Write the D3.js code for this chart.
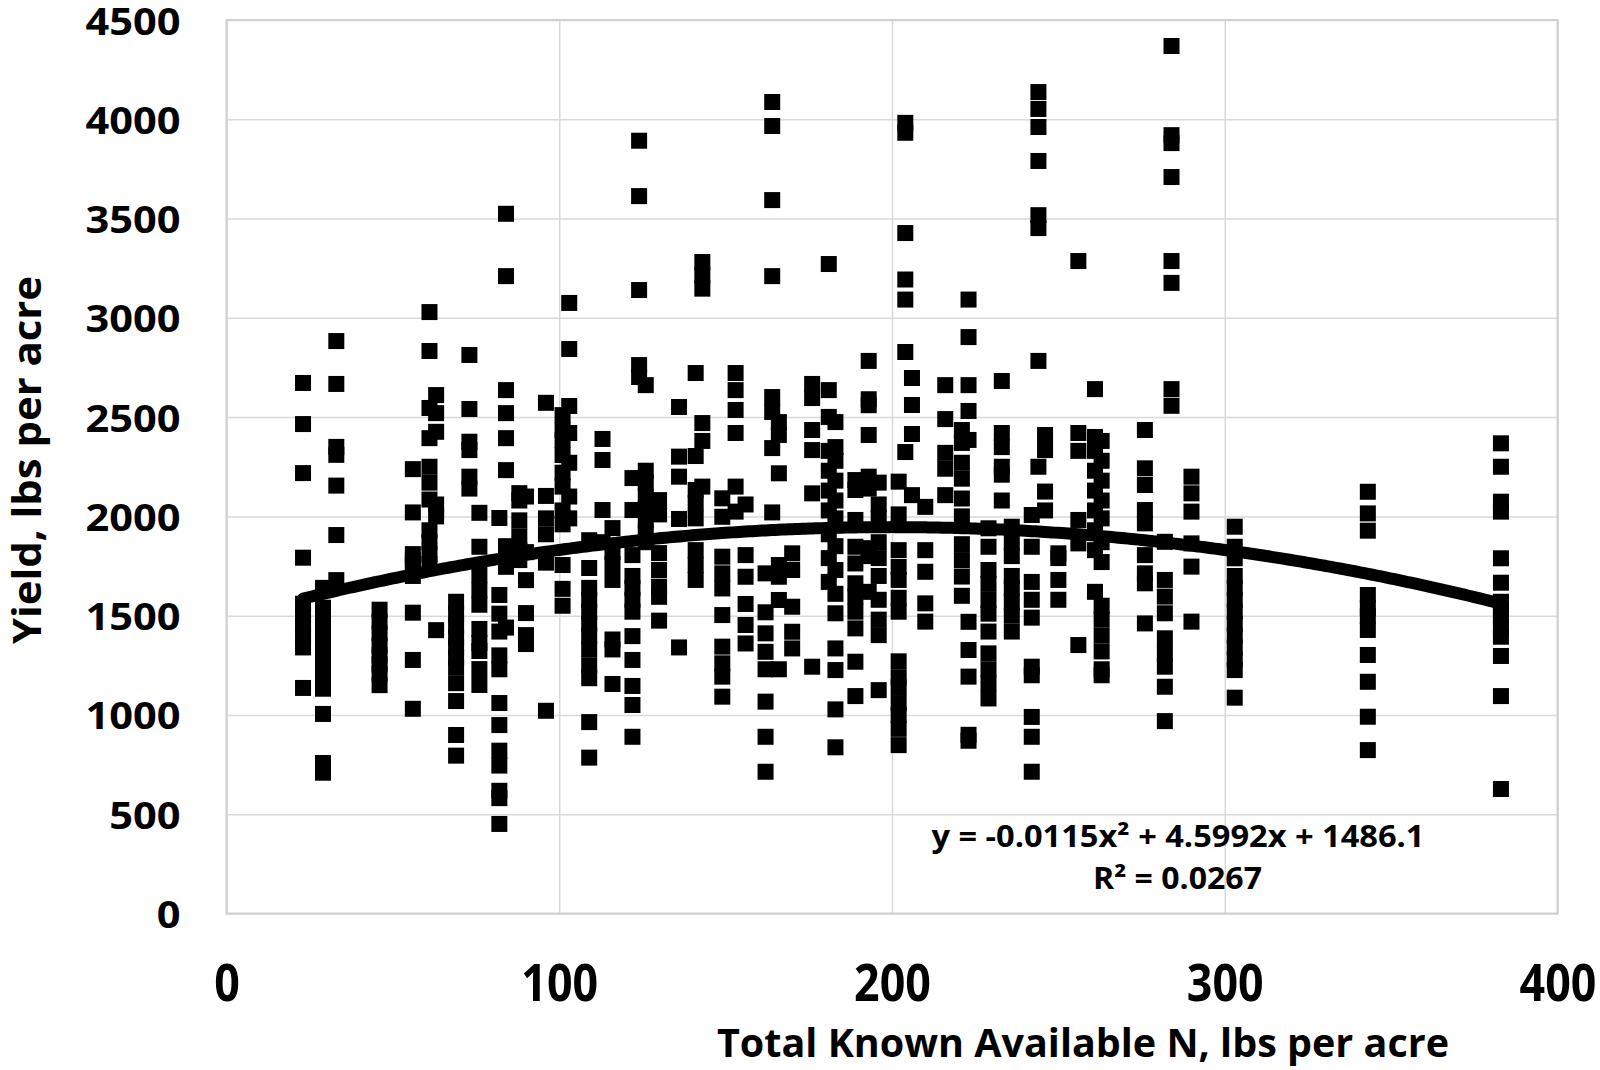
<!DOCTYPE html>
<html>
<head>
<meta charset="utf-8">
<script src="https://cdn.jsdelivr.net/npm/d3@7"></script>
<style>
  body { margin: 0; background: #fff; }
  text { font-family: "Open Sans", "Noto Sans", sans-serif; font-weight: bold; fill: #000; }
</style>
</head>
<body>
<svg id="chart" width="1600" height="1070"></svg>
<script>
// N levels (x) and the yields measured at each level
var nLevels = [23, 29, 33, 46, 56, 61, 63, 69, 73, 76, 82, 84, 88, 90, 96, 101, 103, 109, 113, 116,
    122, 124, 126, 130, 136, 141, 143, 149, 153, 156, 162, 164, 166, 170, 176, 181, 183, 189, 193, 196,
    202, 204, 206, 210, 216, 221, 223, 229, 233, 236, 242, 244, 246, 250, 256, 261, 263, 276, 282, 284,
    290, 303, 343, 383];

var yieldsByLevel = [
    [2672, 2465, 2218, 1792, 1560, 1505, 1455, 1400, 1340, 1136],
    [1640, 1540, 1490, 1440, 1390, 1340, 1290, 1240, 1200, 1132, 1005, 758, 709],
    [2883, 2667, 2350, 2310, 2155, 1906, 1679],
    [1530, 1470, 1410, 1350, 1300, 1255, 1210, 1150],
    [2238, 2020, 1810, 1780, 1750, 1700, 1515, 1277, 1031],
    [3029, 2833, 2546, 2394, 2250, 2170, 2085, 1930, 1870, 1810, 1760],
    [2611, 2520, 2426, 2060, 2000, 1427],
    [1570, 1510, 1450, 1390, 1340, 1290, 1240, 1160, 1070, 899, 795],
    [2813, 2541, 2376, 2334, 2200, 2140],
    [2018, 1847, 1706, 1629, 1555, 1433, 1362, 1322, 1231, 1151],
    [1992, 1604, 1510, 1420, 1300, 1230, 1060, 949, 820, 745, 618, 581, 451],
    [3524, 3210, 2636, 2520, 2394, 2233, 1850, 1746, 1440],
    [2117, 2080, 1980, 1900, 1830, 1780],
    [2100, 1820, 1679, 1513, 1402, 1357],
    [2572, 2103, 1990, 1910, 1767, 1021],
    [2510, 2435, 2385, 2309, 2220, 2150, 2030, 1960, 1755, 1635, 1550],
    [3075, 2843, 2556, 2420, 2270, 2100, 1990],
    [1880, 1740, 1640, 1580, 1520, 1460, 1400, 1330, 1250, 1185, 964, 785],
    [2390, 2284, 2032, 1870],
    [1941, 1820, 1760, 1680, 1380, 1330, 1156],
    [2193, 2032, 1805, 1700, 1640, 1580, 1520, 1397, 1277, 1146, 1050, 890],
    [3892, 3613, 3140, 2762, 2702],
    [2661, 2230, 2170, 2100, 2040, 1980, 1920, 1870],
    [2082, 2010, 1815, 1730, 1646, 1595, 1475],
    [2551, 2301, 2200, 1987, 1340],
    [2722, 2304, 2133, 2066, 1990, 1830, 1755, 1680],
    [3281, 3214, 3147, 2470, 2380, 2150],
    [2091, 1998, 1797, 1713, 1637, 1503, 1344, 1260, 1193, 1092],
    [2722, 2636, 2536, 2420, 2150, 2024],
    [2060, 1805, 1696, 1559, 1453, 1360],
    [1713, 1517, 1411, 1318, 1230, 1067, 890, 714],
    [4087, 3966, 3593, 3210, 2601, 2526, 2344, 2020],
    [2475, 2410, 2217, 1755, 1696, 1579, 1230],
    [1814, 1730, 1545, 1419, 1335],
    [2667, 2596, 2435, 2334, 2116, 1243],
    [3271, 2636, 2501, 2330, 2230, 2130, 2030, 1910, 1790, 1670],
    [2475, 2349, 2280, 2180, 2080, 1990, 1850, 1730, 1610, 1512, 1335, 1226, 1028, 837],
    [2183, 2133, 1982, 1847, 1763, 1663, 1596, 1520, 1436, 1268, 1095],
    [2783, 2590, 2560, 2410, 2200, 2140, 1840, 1800, 1620],
    [2170, 2060, 1990, 1870, 1790, 1700, 1580, 1480, 1402, 1125],
    [2175, 2010, 1830, 1745, 1680, 1590, 1520, 1270, 1190, 1140, 1060, 1000, 930, 848],
    [3982, 3932, 3427, 3193, 3092, 2828, 2324],
    [2697, 2561, 2415, 2107],
    [2048, 1830, 1721, 1562, 1470],
    [2661, 2490, 2320, 2240, 2107],
    [2435, 2370, 2270, 2190, 2090, 2000, 1860, 1780, 1697, 1600],
    [3092, 2903, 2661, 2531, 2385, 1469, 1327, 1193, 900, 870],
    [1940, 1847, 1730, 1660, 1580, 1510, 1420, 1310, 1230, 1160, 1083],
    [2682, 2420, 2349, 2250, 2210, 2080],
    [1948, 1870, 1800, 1700, 1640, 1570, 1500, 1420],
    [2007, 1847, 1670, 1580, 1490, 1243, 1200, 990, 890, 714],
    [4137, 4052, 3961, 3790, 3517, 3452, 2783, 2250],
    [2410, 2334, 2125, 2030],
    [1814, 1790, 1680, 1580],
    [3286, 2420, 2330, 1982, 1864, 1352],
    [2641, 2400, 2330, 2230, 2130, 2030, 1930, 1830, 1620],
    [2380, 2280, 2180, 2080, 1990, 1870, 1770, 1550, 1480, 1400, 1320, 1230, 1200],
    [2435, 2242, 2158, 2032, 1965, 1805, 1713, 1663, 1461],
    [1872, 1680, 1596, 1512, 1386, 1310, 1243, 1142, 969],
    [4369, 3920, 3880, 3709, 3286, 3176, 2641, 2557],
    [2200, 2116, 2024, 1864, 1747, 1470],
    [1948, 1847, 1789, 1700, 1640, 1580, 1520, 1460, 1400, 1340, 1280, 1226, 1087],
    [2124, 2015, 1928, 1604, 1540, 1498, 1428, 1302, 1167, 991, 823],
    [2368, 2250, 2074, 2024, 1789, 1666, 1570, 1530, 1495, 1440, 1394, 1297, 1095, 627]
];

var xTicks = [0, 100, 200, 300, 400];
var yTicks = [0, 500, 1000, 1500, 2000, 2500, 3000, 3500, 4000, 4500];

// polynomial trendline y = a x^2 + b x + c, as printed on the chart
var trendCoef = [-0.0115, 4.5992, 1486.1];
var trendLabel = ["y = -0.0115x\u00B2 + 4.5992x + 1486.1", "R\u00B2 = 0.0267"];

var xTitle = "Total Known Available N, lbs per acre";
var yTitle = "Yield, lbs per acre";

var svg = d3.select("#chart");
var margin = {top: 20, left: 226.5, right: 42.5, bottom: 156.5};
var innerWidth = 1600 - margin.left - margin.right;
var innerHeight = 1070 - margin.top - margin.bottom;
var gridColor = "#d9d9d9";

var g = svg.append("g")
    .attr("transform", "translate(" + margin.left + "," + margin.top + ")");

var xScale = d3.scaleLinear().domain([0, 400]).range([0, innerWidth]);
var yScale = d3.scaleLinear().domain([0, 4500]).range([innerHeight, 0]);

// gridlines + y labels
var yAxis = d3.axisLeft(yScale).tickValues(yTicks).tickFormat(d3.format("d"))
    .tickSize(-innerWidth).tickPadding(46);
var gy = g.append("g").call(yAxis);
gy.select(".domain").remove();
gy.selectAll("line").attr("stroke", gridColor).attr("stroke-width", 1.5);
gy.selectAll("text")
    .attr("dy", 14)
    .style("font-size", "38px")
    .attr("textLength", function(d) { return String(d).length * 23.75; })
    .attr("lengthAdjust", "spacingAndGlyphs");

var xAxis = d3.axisBottom(xScale).tickValues(xTicks).tickFormat(d3.format("d"))
    .tickSize(-innerHeight);
var gx = g.append("g").attr("transform", "translate(0," + innerHeight + ")").call(xAxis);
gx.select(".domain").remove();
gx.selectAll("line").attr("stroke", gridColor).attr("stroke-width", 1.5);
gx.selectAll("text")
    .attr("y", 87)
    .attr("dy", 0)
    .style("font-size", "52px")
    .attr("textLength", function(d) { return String(d).length * 25.6; })
    .attr("lengthAdjust", "spacingAndGlyphs");

// plot border
g.append("rect")
    .attr("width", innerWidth)
    .attr("height", innerHeight)
    .attr("fill", "none")
    .attr("stroke", "#d0d0d0")
    .attr("stroke-width", 2);

// scatter points
var points = [];
nLevels.forEach(function(n, i) {
    yieldsByLevel[i].forEach(function(y) { points.push({n: n, y: y}); });
});
var size = 16;
g.append("g").selectAll("rect")
    .data(points)
    .enter()
    .append("rect")
    .attr("x", function(d) { return xScale(d.n) - size / 2; })
    .attr("y", function(d) { return yScale(d.y) - size / 2; })
    .attr("width", size)
    .attr("height", size)
    .attr("fill", "#000");

// trendline over the data range
var xExt = d3.extent(nLevels);
var trendPts = d3.range(xExt[0], xExt[1] + 0.5, 1).map(function(x) {
    return [x, trendCoef[0] * x * x + trendCoef[1] * x + trendCoef[2]];
});
g.append("path")
    .datum(trendPts)
    .attr("d", d3.line().x(function(d) { return xScale(d[0]); }).y(function(d) { return yScale(d[1]); }))
    .attr("fill", "none")
    .attr("stroke", "#000")
    .attr("stroke-width", 12)
    .attr("stroke-linecap", "round")
    .attr("stroke-linejoin", "round");

// equation label
svg.append("text")
    .attr("x", 1178).attr("y", 846.5)
    .attr("text-anchor", "middle")
    .style("font-size", "30px")
    .attr("textLength", 493)
    .attr("lengthAdjust", "spacingAndGlyphs")
    .text(trendLabel[0]);
svg.append("text")
    .attr("x", 1177.5).attr("y", 889)
    .attr("text-anchor", "middle")
    .style("font-size", "30px")
    .attr("textLength", 169)
    .attr("lengthAdjust", "spacingAndGlyphs")
    .text(trendLabel[1]);

// axis titles
svg.append("text")
    .attr("x", 1083).attr("y", 1057)
    .attr("text-anchor", "middle")
    .style("font-size", "40px")
    .attr("textLength", 732)
    .attr("lengthAdjust", "spacingAndGlyphs")
    .text(xTitle);
svg.append("text")
    .attr("transform", "translate(41,460) rotate(-90)")
    .attr("text-anchor", "middle")
    .style("font-size", "40px")
    .attr("textLength", 368)
    .attr("lengthAdjust", "spacingAndGlyphs")
    .text(yTitle);
</script>
</body>
</html>
